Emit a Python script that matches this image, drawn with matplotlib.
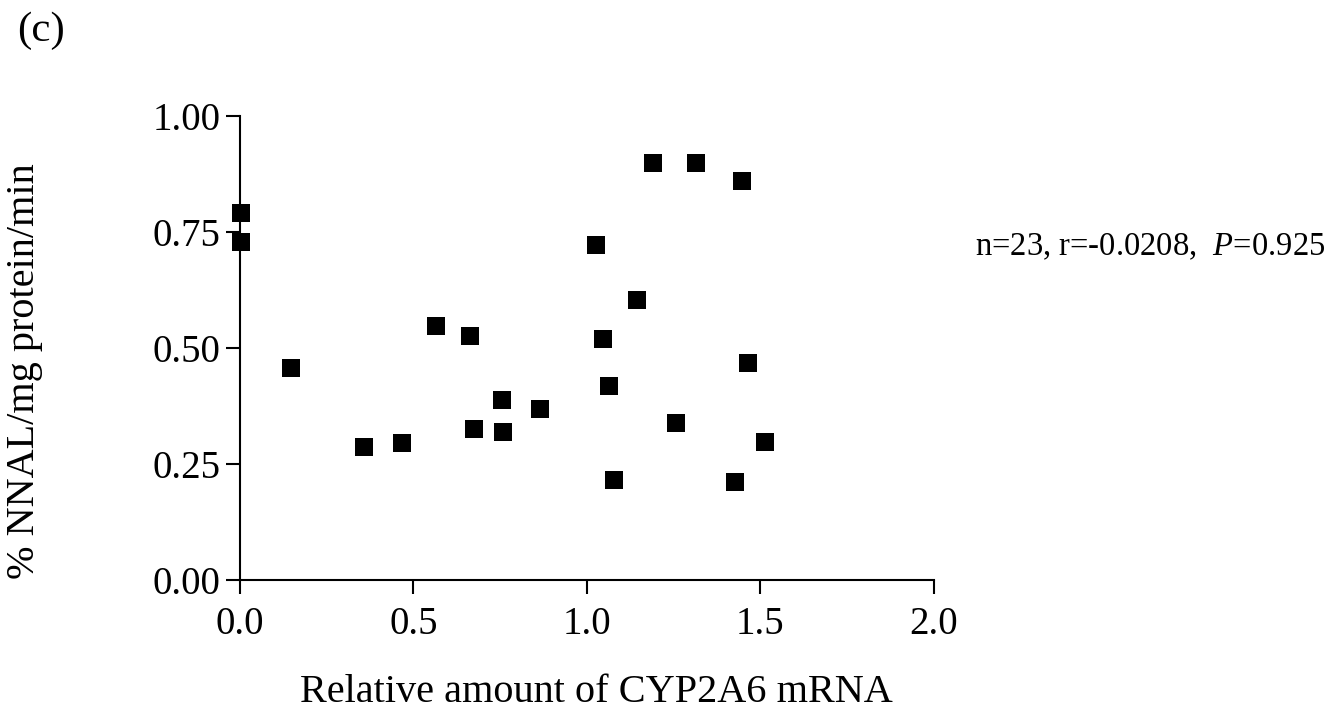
import matplotlib
matplotlib.use("Agg")
import matplotlib.pyplot as plt

cyp2a6_mrna = [0.003, 0.005, 0.148, 0.358, 0.468, 0.565, 0.664, 0.676, 0.755, 0.758,
               0.866, 1.192, 1.315, 1.447, 1.027, 1.145, 1.048, 1.463, 1.065, 1.257,
               1.512, 1.079, 1.426]
nnal_pct = [0.790, 0.727, 0.457, 0.286, 0.294, 0.548, 0.526, 0.325, 0.388, 0.318,
            0.368, 0.899, 0.899, 0.860, 0.722, 0.603, 0.518, 0.468, 0.418, 0.339,
            0.297, 0.215, 0.210]
x_ticks = [0.0, 0.5, 1.0, 1.5, 2.0]
y_ticks = [0.00, 0.25, 0.50, 0.75, 1.00]

plt.rcParams['font.family'] = ['Liberation Serif', 'DejaVu Serif']
plt.rcParams['mathtext.fontset'] = 'custom'
plt.rcParams['mathtext.rm'] = 'Liberation Serif'
plt.rcParams['mathtext.it'] = 'Liberation Serif:italic'

fig = plt.figure(figsize=(13.31, 7.21), dpi=100)
ax = fig.add_axes([0.1801, 0.1956, 0.7017 - 0.1801, 0.8395 - 0.1956])
ax.scatter(cyp2a6_mrna, nnal_pct, marker='s', s=150, color='black', clip_on=False, zorder=3, linewidths=0)
ax.set_xlim(0, 2.0)
ax.set_ylim(0, 1.0)
ax.set_xticks(x_ticks)
ax.set_xticklabels([f"{v:.1f}" for v in x_ticks])
ax.set_yticks(y_ticks)
ax.set_yticklabels([f"{v:.2f}" for v in y_ticks])
for s in ['top', 'right']:
    ax.spines[s].set_visible(False)
for s in ['left', 'bottom']:
    ax.spines[s].set_linewidth(1.5)
ax.tick_params(axis='both', direction='out', length=10, width=1.5, labelsize=28)
ax.tick_params(axis='x', pad=9)
ax.tick_params(axis='y', pad=4)

fig.text(596 / 1331, 1 - 692 / 721, "Relative amount of CYP2A6 mRNA", fontsize=29, ha='center', va='center')
fig.text(25 / 1331, 1 - 371 / 721, "% NNAL/mg protein/min", fontsize=29, ha='center', va='center', rotation=90)

fig.text(0.7325, 1 - 247 / 721, "n=23, r=-0.0208,  $\\mathit{P}$=0.925", fontsize=23.5, va='center', ha='left')
fig.text(0.013, 0.957, "(c)", fontsize=31, va='center', ha='left')

fig.savefig("out.png", dpi=100)
